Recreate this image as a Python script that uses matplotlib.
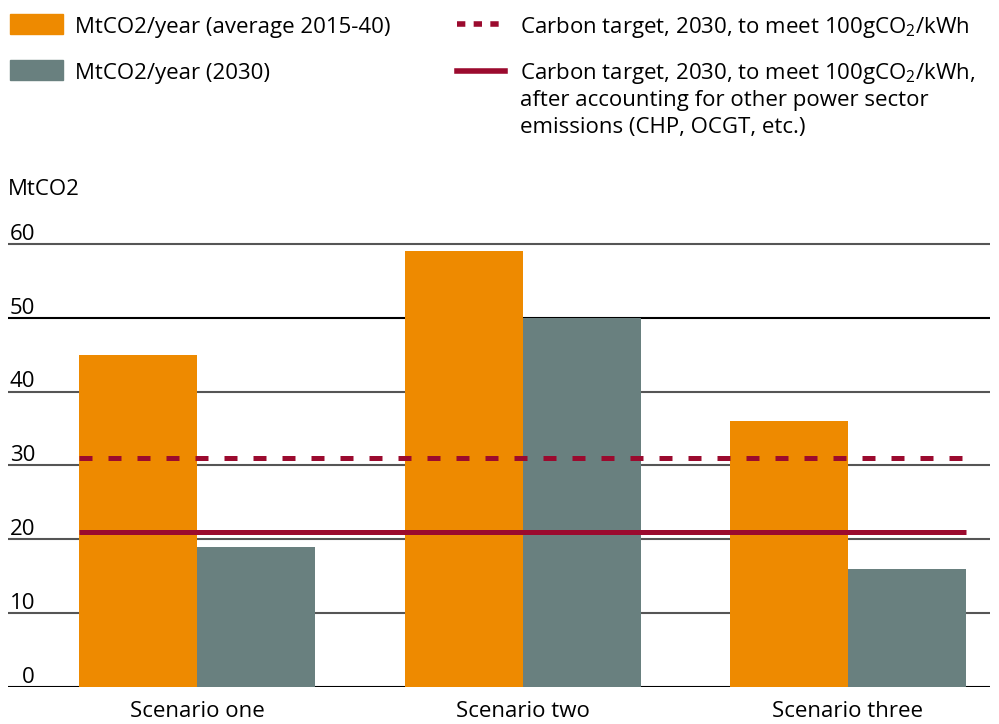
import matplotlib
matplotlib.use("Agg")
import matplotlib.pyplot as plt
import numpy as np
from matplotlib.patches import Rectangle
from matplotlib.lines import Line2D

scenarios = ["Scenario one", "Scenario two", "Scenario three"]
avg_2015_40 = [45, 59, 36]
year_2030 = [19, 50, 16]
target_dotted = 31
target_solid = 21
yticks = [0, 10, 20, 30, 40, 50, 60]

ORANGE = "#EE8A00"
GREY = "#69807F"
RED = "#9B0A2E"
FS = 16

plt.rcParams["font.family"] = ["Open Sans", "DejaVu Sans"]
plt.rcParams["mathtext.fontset"] = "custom"
plt.rcParams["mathtext.rm"] = "Open Sans"

fig = plt.figure(figsize=(9.99, 7.24), dpi=100)
W, H = 999, 724
ax = fig.add_axes([8 / W, 1 - 687 / H, (990 - 8) / W, (687 - 244) / H * 66 / 60])

x = np.arange(len(scenarios))
w = 118 / 325.5
ax.bar(x - w / 2, avg_2015_40, w, color=ORANGE, zorder=2)
ax.bar(x + w / 2, year_2030, w, color=GREY, zorder=2)

ax.set_xlim((8 - 197) / 325.5, (990 - 197) / 325.5)
ax.set_ylim(0, 66)

for t in yticks:
    ax.axhline(t, color="black" if t in (0, 50) else "#555555", lw=1.5, zorder=1)
    ax.annotate(str(t), xy=(0, t), xycoords=("axes fraction", "data"),
                xytext=(19.5, 3), textcoords="offset points",
                ha="right", va="baseline", fontsize=FS)

ax.hlines(target_dotted, x[0] - w, x[-1] + w, color=RED, lw=3.6,
          linestyle=(0, (2.6, 3.2)), zorder=3)
ax.hlines(target_solid, x[0] - w, x[-1] + w, color=RED, lw=3.6, zorder=3)

ax.set_xticks(x)
ax.set_xticklabels(scenarios, fontsize=FS)
ax.tick_params(axis="x", length=0, pad=10)
ax.set_yticks([])
for s in ax.spines.values():
    s.set_visible(False)

fig.text(8 / W, 1 - 195 / H, "MtCO2", fontsize=FS, va="baseline")

# legend
fig.patches.append(Rectangle((10 / W, 1 - 34 / H), 53 / W, 20 / H,
                             color=ORANGE, transform=fig.transFigure))
fig.patches.append(Rectangle((10 / W, 1 - 80 / H), 53 / W, 20 / H,
                             color=GREY, transform=fig.transFigure))
fig.text(75 / W, 1 - 33 / H, "MtCO2/year (average 2015-40)", fontsize=FS, va="baseline")
fig.text(75 / W, 1 - 79 / H, "MtCO2/year (2030)", fontsize=FS, va="baseline")

fig.lines.append(Line2D([457 / W, 500 / W], [1 - 24 / H, 1 - 24 / H], color=RED,
                        lw=4, linestyle=(0, (1.5, 1.5)), transform=fig.transFigure))
fig.lines.append(Line2D([457 / W, 505 / W], [1 - 71 / H, 1 - 71 / H], color=RED,
                        lw=4, transform=fig.transFigure))
fig.text(520 / W, 1 - 33 / H, r"Carbon target, 2030, to meet 100gCO$_\mathregular{2}$/kWh",
         fontsize=FS, va="baseline")
legend_lines = ["Carbon target, 2030, to meet 100gCO$_\\mathregular{2}$/kWh,",
                "after accounting for other power sector",
                "emissions (CHP, OCGT, etc.)"]
for i, line in enumerate(legend_lines):
    fig.text(520 / W, 1 - (79 + 27 * i) / H, line, fontsize=FS, va="baseline")

fig.savefig("out.png", dpi=100)
